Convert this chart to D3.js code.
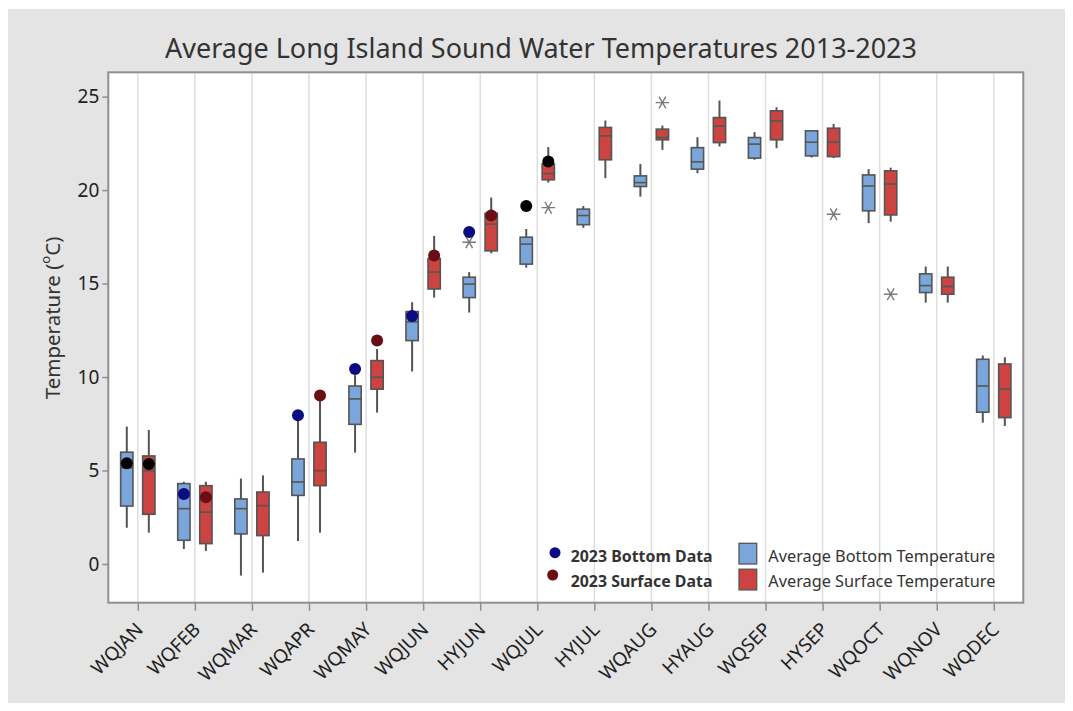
<!DOCTYPE html>
<html>
<head>
<meta charset="utf-8">
<script src="https://cdn.jsdelivr.net/npm/d3@7"></script>
<style>
  html, body { margin: 0; padding: 0; background: #ffffff; }
  svg { display: block; }
</style>
</head>
<body>
<svg id="chart" width="1073" height="711"></svg>
<script>
// ---------------- DATA ----------------
const categories = ["WQJAN","WQFEB","WQMAR","WQAPR","WQMAY","WQJUN","HYJUN","WQJUL",
                    "HYJUL","WQAUG","HYAUG","WQSEP","HYSEP","WQOCT","WQNOV","WQDEC"];

// Average Bottom Temperature box statistics
const bottomLow  = [1.94, 0.80, -0.62, 1.23, 5.96, 10.30, 13.45, 15.85, 17.98, 19.65, 20.90, 21.62, 21.74, 18.23, 13.98, 7.56];
const bottomQ1   = [3.10, 1.27,  1.61, 3.67, 7.47, 11.95, 14.25, 16.04, 18.15, 20.19, 21.12, 21.71, 21.83, 18.89, 14.52, 8.12];
const bottomMed  = [5.15, 2.96,  2.96, 4.39, 8.83, 12.95, 14.97, 17.11, 18.64, 20.40, 21.51, 22.46, 22.56, 20.22, 14.89, 9.52];
const bottomQ3   = [5.98, 4.30,  3.48, 5.62, 9.52, 13.50, 15.34, 17.48, 18.98, 20.76, 22.27, 22.81, 23.17, 20.81, 15.52, 10.95];
const bottomHigh = [7.35, 4.40,  4.57, 7.75, 10.10, 14.00, 15.61, 17.92, 19.15, 21.40, 22.83, 23.10, 23.17, 21.12, 15.91, 11.15];

// Average Surface Temperature box statistics
const surfaceLow  = [1.68, 0.70, -0.46, 1.68, 8.10, 14.25, 16.62, 20.40, 20.64, 22.15, 22.33, 22.24, 21.71, 18.31, 13.98, 7.38];
const surfaceQ1   = [2.66, 1.09,  1.52, 4.19, 9.35, 14.71, 16.75, 20.55, 21.62, 22.69, 22.54, 22.69, 21.79, 18.67, 14.43, 7.83];
const surfaceMed  = [4.99, 2.77,  3.12, 4.99, 9.99, 15.61, 18.18, 20.88, 22.90, 22.81, 23.43, 23.70, 22.56, 20.32, 14.84, 9.36];
const surfaceQ3   = [5.78, 4.19,  3.85, 6.51, 10.88, 16.34, 18.76, 21.40, 23.35, 23.26, 23.88, 24.24, 23.31, 21.03, 15.34, 10.70];
const surfaceHigh = [7.17, 4.40,  4.74, 8.95, 11.50, 17.55, 19.60, 22.30, 23.72, 23.45, 24.79, 24.43, 23.54, 21.20, 15.91, 11.06];

// 2023 data points (null = no point)
const bottom2023  = [5.39, 3.75, null, 7.96, 10.43, 13.27, 17.76, 19.15, null, null, null, null, null, null, null, null];
const surface2023 = [5.35, 3.57, null, 9.01, 11.95, 16.50, 18.64, 21.53, null, null, null, null, null, null, null, null];
// categories whose 2023 points are shown in black
const black2023Cats = ["WQJAN", "WQJUL"];

// Outliers (asterisks)
const outlierCats   = ["HYJUN", "WQJUL", "WQAUG", "HYSEP", "WQOCT"];
const outlierSeries = ["bottom", "surface", "surface", "surface", "surface"];
const outlierValues = [17.21, 19.06, 24.68, 18.71, 14.43];

const yTicks = [0, 5, 10, 15, 20, 25];

const titleText = "Average Long Island Sound Water Temperatures 2013-2023";
const legendDotLabels = ["2023 Bottom Data", "2023 Surface Data"];
const legendBoxLabels = ["Average Bottom Temperature", "Average Surface Temperature"];

// ---------------- LAYOUT / STYLE ----------------
const FONT = "'Noto Sans', 'Open Sans', sans-serif";
const BLUE = "#7ba6dc", RED = "#cc4341";
const DOT_BLUE = "#0b0b82", DOT_RED = "#6a0d14", DOT_BLACK = "#000000";
const EDGE = "#555555";
const plot = { left: 108.3, right: 1023.3, top: 72.3, bottom: 602.7 };

const svg = d3.select("#chart");

// background panel
svg.append("rect").attr("x", 8).attr("y", 9).attr("width", 1057).attr("height", 694).attr("fill", "#e4e4e4");
svg.append("rect").attr("x", plot.left).attr("y", plot.top)
   .attr("width", plot.right - plot.left).attr("height", plot.bottom - plot.top).attr("fill", "#ffffff");

const x = d3.scalePoint().domain(categories).range([plot.left, plot.right]).padding(0.517);
const y = d3.scaleLinear().domain([-2.07, 26.3]).range([plot.bottom, plot.top]);
const step = x.step();
const off = step * 0.193;
const bw = step * 0.215;

// gridlines
svg.append("g").selectAll("line").data(categories).join("line")
   .attr("x1", d => x(d)).attr("x2", d => x(d))
   .attr("y1", plot.top).attr("y2", plot.bottom)
   .attr("stroke", "#dedede").attr("stroke-width", 1.5);

// build box data
function boxes(low, q1, med, q3, high, series) {
  return categories.map((c, i) => ({ c, series, low: low[i], q1: q1[i], med: med[i], q3: q3[i], high: high[i] }));
}
const allBoxes = boxes(bottomLow, bottomQ1, bottomMed, bottomQ3, bottomHigh, "bottom")
  .concat(boxes(surfaceLow, surfaceQ1, surfaceMed, surfaceQ3, surfaceHigh, "surface"));
const cx = d => x(d.c) + (d.series === "bottom" ? -off : off);

const gB = svg.append("g");
// whiskers
gB.selectAll("line.wh").data(allBoxes).join("line").attr("class", "wh")
  .attr("x1", cx).attr("x2", cx).attr("y1", d => y(d.q3)).attr("y2", d => y(d.high))
  .attr("stroke", EDGE).attr("stroke-width", 2);
gB.selectAll("line.wl").data(allBoxes).join("line").attr("class", "wl")
  .attr("x1", cx).attr("x2", cx).attr("y1", d => y(d.q1)).attr("y2", d => y(d.low))
  .attr("stroke", EDGE).attr("stroke-width", 2);
// boxes
gB.selectAll("rect").data(allBoxes).join("rect")
  .attr("x", d => cx(d) - bw / 2).attr("width", bw)
  .attr("y", d => y(d.q3)).attr("height", d => y(d.q1) - y(d.q3))
  .attr("fill", d => d.series === "bottom" ? BLUE : RED)
  .attr("stroke", EDGE).attr("stroke-width", 1.6);
// medians
gB.selectAll("line.med").data(allBoxes).join("line").attr("class", "med")
  .attr("x1", d => cx(d) - bw / 2).attr("x2", d => cx(d) + bw / 2)
  .attr("y1", d => y(d.med)).attr("y2", d => y(d.med))
  .attr("stroke", EDGE).attr("stroke-width", 1.6);

// outliers
const outliers = outlierCats.map((c, i) => ({ c, series: outlierSeries[i], v: outlierValues[i] }));
const star = d3.symbol().type(d3.symbolAsterisk).size(130);
svg.append("g").selectAll("path").data(outliers).join("path")
  .attr("d", star)
  .attr("transform", d => `translate(${cx(d)},${y(d.v)}) rotate(90)`)
  .attr("fill", "none").attr("stroke", "#7a7a7a").attr("stroke-width", 1.4);

// 2023 dots
const dots = [];
categories.forEach((c, i) => {
  if (bottom2023[i] != null) dots.push({ c, series: "bottom", v: bottom2023[i] });
  if (surface2023[i] != null) dots.push({ c, series: "surface", v: surface2023[i] });
});
svg.append("g").selectAll("circle").data(dots).join("circle")
  .attr("cx", cx).attr("cy", d => y(d.v)).attr("r", 6)
  .attr("fill", d => black2023Cats.includes(d.c) ? DOT_BLACK : (d.series === "bottom" ? DOT_BLUE : DOT_RED));

// frame
svg.append("rect").attr("x", plot.left).attr("y", plot.top)
   .attr("width", plot.right - plot.left).attr("height", plot.bottom - plot.top)
   .attr("fill", "none").attr("stroke", "#8f8f8f").attr("stroke-width", 2);

// y axis
const yAxis = d3.axisLeft(y).tickValues(yTicks).tickSize(6).tickPadding(3);
const gy = svg.append("g").attr("transform", `translate(${plot.left},0)`).call(yAxis);
gy.select(".domain").remove();
gy.selectAll(".tick line").attr("stroke", "#8f8f8f").attr("stroke-width", 1.5);
gy.selectAll(".tick text").attr("font-family", FONT).attr("font-size", 19).attr("fill", "#222");

// x axis
const xAxis = d3.axisBottom(x).tickSize(8).tickPadding(0);
const gx = svg.append("g").attr("transform", `translate(0,${plot.bottom})`).call(xAxis);
gx.select(".domain").remove();
gx.selectAll(".tick line").attr("stroke", "#8f8f8f").attr("stroke-width", 1.5);
gx.selectAll(".tick text")
  .attr("class", "xlab")
  .attr("font-family", FONT).attr("font-size", 18).attr("fill", "#222")
  .attr("text-anchor", "end").attr("dy", null).attr("y", 0)
  .attr("transform", "translate(6,28) rotate(-45)");

// title
svg.append("text").attr("id", "title").attr("x", 541).attr("y", 47)
   .attr("text-anchor", "middle").attr("dominant-baseline", "central")
   .attr("font-family", FONT).attr("font-size", 24).attr("fill", "#333")
   .text(titleText);

// y label
const yl = svg.append("text").attr("id", "ylab")
   .attr("transform", "translate(52,318) rotate(-90)")
   .attr("text-anchor", "middle").attr("dominant-baseline", "central")
   .attr("font-family", FONT).attr("font-size", 20.5).attr("fill", "#333");
yl.append("tspan").text("Temperature (");
yl.append("tspan").attr("font-size", 13).attr("dy", -7).text("o");
yl.append("tspan").attr("dy", 7).text("C)");

// legend
const legDots = [DOT_BLUE, DOT_RED];
const legDotPos = [[555, 552.7], [552.7, 575]];
const legTextY = [556, 581];
svg.append("g").selectAll("circle").data(legendDotLabels).join("circle")
  .attr("cx", (d, i) => legDotPos[i][0]).attr("cy", (d, i) => legDotPos[i][1]).attr("r", 5.5)
  .attr("fill", (d, i) => legDots[i]);
svg.append("g").selectAll("text").data(legendDotLabels).join("text").attr("class", "legdot")
  .attr("x", 570.7).attr("y", (d, i) => legTextY[i]).attr("dominant-baseline", "central")
  .attr("font-family", FONT).attr("font-weight", "bold").attr("font-size", 13.5).attr("fill", "#333")
  .text(d => d);
const legFills = [BLUE, RED];
const legBoxY = [543.3, 569.2];
svg.append("g").selectAll("rect").data(legendBoxLabels).join("rect")
  .attr("x", 739).attr("y", (d, i) => legBoxY[i]).attr("width", 17.7).attr("height", 20.7)
  .attr("fill", (d, i) => legFills[i]).attr("stroke", EDGE).attr("stroke-width", 1.3);
svg.append("g").selectAll("text").data(legendBoxLabels).join("text").attr("class", "legbox")
  .attr("x", 768.3).attr("y", (d, i) => legTextY[i]).attr("dominant-baseline", "central")
  .attr("font-family", FONT).attr("font-size", 14).attr("fill", "#333")
  .text(d => d);

// fit font sizes to measured widths of the reference
function fitGroup(selector, target) {
  const s = d3.select(selector);
  const fs = parseFloat(s.attr("font-size")), w = s.node().getComputedTextLength();
  if (w > 0) d3.selectAll(selector).attr("font-size", (fs * target / w).toFixed(2));
}
fitGroup("#title", 752);
fitGroup(".legdot", 142);
fitGroup(".legbox", 227);
fitGroup(".xlab", 64);
</script>
</body>
</html>
